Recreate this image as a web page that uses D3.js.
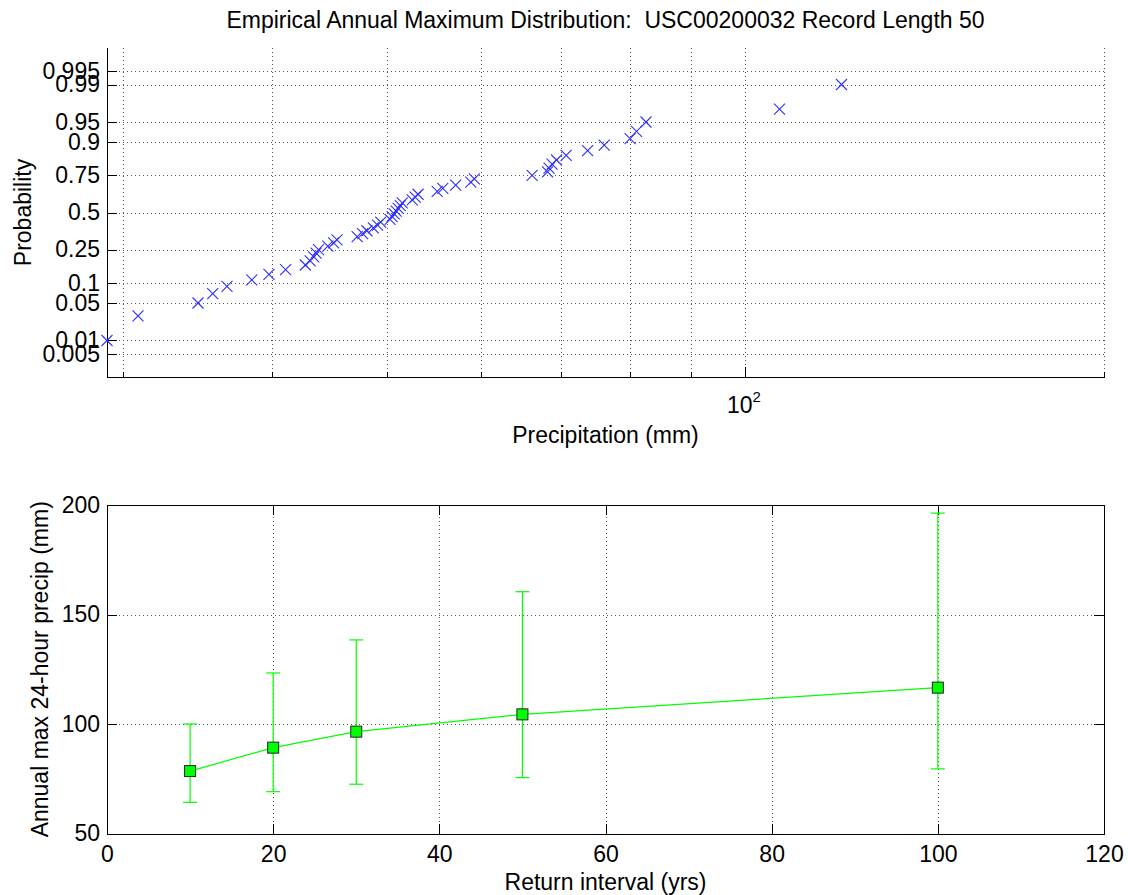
<!DOCTYPE html>
<html>
<head>
<meta charset="utf-8">
<script src="https://cdn.jsdelivr.net/npm/d3@7/dist/d3.min.js"></script>
<style>
	body { margin: 0; background: #fff; }
	svg text { font-family: "Liberation Sans", Arial, Helvetica, sans-serif; fill: #000; white-space: pre; }
	.grid line { stroke: #555; stroke-dasharray: 1,3; shape-rendering: crispEdges; }
	.grid path { display: none; }
	.ax path, .ax line { stroke: #000; shape-rendering: crispEdges; }
	.pts line { stroke: #3030ff; stroke-width: 1.1; }
</style>
</head>
<body>
<div id="chart"></div>
<script>
// annual maximum 24-hour precipitation, sorted (mm)
var precip = [
	29.1, 30.9, 34.7, 35.7, 36.7, 38.5, 39.8, 41.1, 42.7, 43.1,
	43.4, 43.6, 43.8, 44.6, 45.1, 45.4, 47.2, 47.7, 48.1, 48.7,
	49.1, 49.4, 50.3, 50.5, 50.7, 50.9, 51.1, 51.3, 51.5, 52.5,
	52.8, 53.1, 55.1, 55.7, 57.1, 58.8, 59.2, 66.2, 68.2, 68.4,
	68.8, 69.4, 70.7, 73.7, 76.1, 80.0, 81.0, 82.5, 106.8, 120.4
];
var probTicks = [0.005, 0.01, 0.05, 0.1, 0.25, 0.5, 0.75, 0.9, 0.95, 0.99, 0.995];
var precipMinor = [30, 40, 50, 60, 70, 80, 90, 200];
var precipMajor = [100];

var returnYears = [10, 20, 30, 50, 100];
var returnLevel = [78.5, 89.2, 96.5, 104.4, 116.6];
var returnLower = [64.2, 69.1, 72.5, 75.5, 79.5];
var returnUpper = [100, 123.3, 138.4, 160.4, 196.3];
var yearTicks = [0, 20, 40, 60, 80, 100, 120];
var levelTicks = [50, 100, 150, 200];

var titleText = "Empirical Annual Maximum Distribution:  USC00200032 Record Length 50";

// inverse normal cdf (Acklam)
var norminv = function(p) {
	var a = [-3.969683028665376e+01, 2.209460984245205e+02, -2.759285104469687e+02, 1.383577518672690e+02, -3.066479806614716e+01, 2.506628277459239e+00];
	var b = [-5.447609879822406e+01, 1.615858368580409e+02, -1.556989798598866e+02, 6.680131188771972e+01, -1.328068155288572e+01];
	var c = [-7.784894002430293e-03, -3.223964580411365e-01, -2.400758277161838e+00, -2.549732539343734e+00, 4.374664141464968e+00, 2.938163982698783e+00];
	var d = [7.784695709041462e-03, 3.224671290700398e-01, 2.445134137142996e+00, 3.754408661907416e+00];
	var q, r;
	if (p < 0.02425) {
		q = Math.sqrt(-2 * Math.log(p));
		return (((((c[0]*q+c[1])*q+c[2])*q+c[3])*q+c[4])*q+c[5]) / ((((d[0]*q+d[1])*q+d[2])*q+d[3])*q+1);
	}
	if (p > 1 - 0.02425) {
		q = Math.sqrt(-2 * Math.log(1 - p));
		return -(((((c[0]*q+c[1])*q+c[2])*q+c[3])*q+c[4])*q+c[5]) / ((((d[0]*q+d[1])*q+d[2])*q+d[3])*q+1);
	}
	q = p - 0.5; r = q * q;
	return (((((a[0]*r+a[1])*r+a[2])*r+a[3])*r+a[4])*r+a[5])*q / (((((b[0]*r+b[1])*r+b[2])*r+b[3])*r+b[4])*r+1);
};

var width = 1128, height = 895;
var fontSize = 23;

var svg = d3.select("#chart").append("svg")
	.attr("width", width)
	.attr("height", height);

svg.append("rect").attr("width", width).attr("height", height).attr("fill", "#fff");

var styleAxis = function(g) {
	g.attr("font-family", null).attr("font-size", null);
	g.selectAll("text").style("font-size", fontSize + "px");
};

// ---------- top: probability plot ----------
var left = 107, right = 1104;
var topY0 = 48, topY1 = 377;

var x1 = d3.scaleLog().domain([29.1, 200]).range([left, right]);
var z1 = d3.scaleLinear().domain([-2.99, 2.99]).range([topY1, topY0]);
var y1 = function(p) { return z1(norminv(p)); };
// normal-probability scale usable by d3.axis
var yProb = function(p) { return y1(p); };
yProb.copy = function() { return yProb; };
yProb.range = function() { return [topY1, topY0]; };
yProb.domain = function() { return [0.0014, 0.9986]; };

var g1 = svg.append("g");

// grid
g1.append("g").attr("class", "grid")
	.attr("transform", "translate(0," + topY1 + ")")
	.call(d3.axisBottom(x1).tickValues(precipMinor.concat(precipMajor)).tickSize(-(topY1 - topY0)).tickFormat(""));
g1.append("g").attr("class", "grid")
	.attr("transform", "translate(" + left + ",0)")
	.call(d3.axisLeft(yProb).tickValues(probTicks).tickSize(-(right - left)).tickFormat(""));

// axes
g1.append("g").attr("class", "ax")
	.attr("transform", "translate(0," + topY1 + ")")
	.call(d3.axisBottom(x1).tickValues(precipMinor).tickSizeInner(-5).tickSizeOuter(0).tickFormat(""));
var majorX = g1.append("g").attr("class", "ax")
	.attr("transform", "translate(0," + topY1 + ")")
	.call(d3.axisBottom(x1).tickValues(precipMajor).tickSizeInner(-10).tickSizeOuter(0).tickFormat(""))
	.call(styleAxis);
majorX.selectAll(".tick").append("text")
	.attr("y", 36)
	.attr("x", -2)
	.attr("text-anchor", "middle")
	.style("font-size", fontSize + "px")
	.text("10")
	.append("tspan")
	.attr("dy", -11)
	.style("font-size", "15px")
	.text("2");
majorX.select(".domain").attr("d", "M" + left + ",0H" + right);

g1.append("g").attr("class", "ax")
	.attr("transform", "translate(" + left + ",0)")
	.call(d3.axisLeft(yProb).tickValues(probTicks).tickSizeInner(-10).tickSizeOuter(0).tickPadding(7).tickFormat(d3.format("")))
	.call(styleAxis)
	.call(function(g) { g.select(".domain").attr("d", "M0," + topY1 + "V" + topY0); });

// probability-plot points, at (i - 0.5) / n
var n = precip.length;
var pts = precip.map(function(v, i) { return {x: v, p: (i + 0.5) / n}; });
var mark = g1.append("g").attr("class", "pts").selectAll("g")
	.data(pts)
	.enter().append("g")
	.attr("transform", function(d) { return "translate(" + x1(d.x) + "," + y1(d.p) + ")"; });
mark.append("line").attr("x1", -5.5).attr("y1", -5.5).attr("x2", 5.5).attr("y2", 5.5);
mark.append("line").attr("x1", -5.5).attr("y1", 5.5).attr("x2", 5.5).attr("y2", -5.5);

svg.append("text")
	.attr("x", (left + right) / 2).attr("y", 28)
	.attr("text-anchor", "middle")
	.style("font-size", fontSize + "px")
	.text(titleText);
svg.append("text")
	.attr("x", (left + right) / 2).attr("y", 443)
	.attr("text-anchor", "middle")
	.style("font-size", fontSize + "px")
	.text("Precipitation (mm)");
svg.append("text")
	.attr("transform", "translate(31," + ((topY0 + topY1) / 2) + ") rotate(-90)")
	.attr("text-anchor", "middle")
	.style("font-size", fontSize + "px")
	.text("Probability");

// ---------- bottom: return levels ----------
var botY0 = 505, botY1 = 833.5;
var x2 = d3.scaleLinear().domain([0, 120]).range([left, right]);
var y2 = d3.scaleLinear().domain([50, 200]).range([botY1, botY0]);

var g2 = svg.append("g");

g2.append("g").attr("class", "grid")
	.attr("transform", "translate(0," + botY1 + ")")
	.call(d3.axisBottom(x2).tickValues(yearTicks.slice(1, -1)).tickSize(-(botY1 - botY0)).tickFormat(""));
g2.append("g").attr("class", "grid")
	.attr("transform", "translate(" + left + ",0)")
	.call(d3.axisLeft(y2).tickValues(levelTicks.slice(1, -1)).tickSize(-(right - left)).tickFormat(""));

g2.append("g").attr("class", "ax")
	.attr("transform", "translate(0," + botY1 + ")")
	.call(d3.axisBottom(x2).tickValues(yearTicks).tickSizeInner(-10).tickSizeOuter(0).tickPadding(12))
	.call(styleAxis);
g2.append("g").attr("class", "ax")
	.attr("transform", "translate(0," + botY0 + ")")
	.call(d3.axisTop(x2).tickValues(yearTicks).tickSizeInner(-10).tickSizeOuter(0).tickFormat(""));
g2.append("g").attr("class", "ax")
	.attr("transform", "translate(" + left + ",0)")
	.call(d3.axisLeft(y2).tickValues(levelTicks).tickSizeInner(-10).tickSizeOuter(0).tickPadding(7))
	.call(styleAxis);
g2.append("g").attr("class", "ax")
	.attr("transform", "translate(" + right + ",0)")
	.call(d3.axisRight(y2).tickValues(levelTicks).tickSizeInner(-10).tickSizeOuter(0).tickFormat(""));

var green = "#00ff00";
var rows = returnYears.map(function(yr, i) {
	return {yr: yr, v: returnLevel[i], lo: returnLower[i], hi: returnUpper[i]};
});

g2.append("path")
	.datum(rows)
	.attr("fill", "none")
	.attr("stroke", green)
	.attr("stroke-width", 1.2)
	.attr("d", d3.line().x(function(d) { return x2(d.yr); }).y(function(d) { return y2(d.v); }));

var bars = g2.append("g").selectAll("g")
	.data(rows)
	.enter().append("g")
	.attr("stroke", green)
	.attr("stroke-width", 1.2);
bars.append("line")
	.attr("x1", function(d) { return x2(d.yr); }).attr("x2", function(d) { return x2(d.yr); })
	.attr("y1", function(d) { return y2(d.lo); }).attr("y2", function(d) { return y2(d.hi); });
bars.append("line")
	.attr("x1", function(d) { return x2(d.yr) - 7; }).attr("x2", function(d) { return x2(d.yr) + 7; })
	.attr("y1", function(d) { return y2(d.lo); }).attr("y2", function(d) { return y2(d.lo); });
bars.append("line")
	.attr("x1", function(d) { return x2(d.yr) - 7; }).attr("x2", function(d) { return x2(d.yr) + 7; })
	.attr("y1", function(d) { return y2(d.hi); }).attr("y2", function(d) { return y2(d.hi); });

g2.append("g").selectAll("rect")
	.data(rows)
	.enter().append("rect")
	.attr("x", function(d) { return x2(d.yr) - 5.5; })
	.attr("y", function(d) { return y2(d.v) - 5.5; })
	.attr("width", 11).attr("height", 11)
	.attr("fill", green)
	.attr("stroke", "#222")
	.attr("stroke-width", 1);

svg.append("text")
	.attr("x", (left + right) / 2).attr("y", 890)
	.attr("text-anchor", "middle")
	.style("font-size", fontSize + "px")
	.text("Return interval (yrs)");
svg.append("text")
	.attr("transform", "translate(48," + ((botY0 + botY1) / 2) + ") rotate(-90)")
	.attr("text-anchor", "middle")
	.style("font-size", fontSize + "px")
	.text("Annual max 24-hour precip (mm)");
</script>
</body>
</html>
